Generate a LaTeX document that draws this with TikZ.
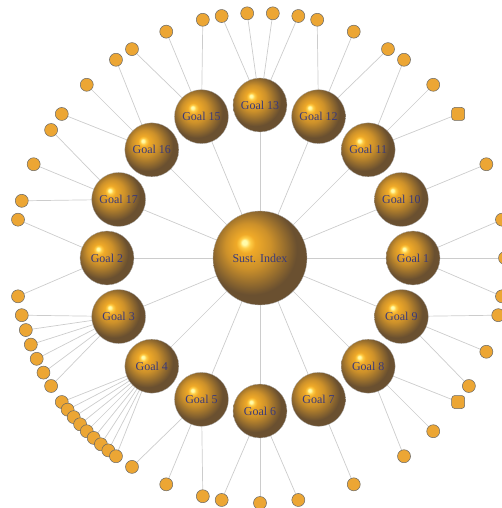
\documentclass[tikz,border=0pt]{standalone}
\usepackage{fontspec}
\setmainfont{Liberation Serif}
\usetikzlibrary{backgrounds}

\definecolor{goldhl}{RGB}{255,252,170}
\definecolor{goldgl}{RGB}{255,205,70}
\definecolor{goldlt}{RGB}{240,170,40}
\definecolor{goldmd}{RGB}{205,145,42}
\definecolor{golddk}{RGB}{106,80,48}
\definecolor{leafor}{RGB}{236,166,52}
\definecolor{labelbl}{RGB}{58,58,122}

\pgfdeclareradialshading{goldball}{\pgfpoint{-8.5bp}{8.5bp}}{%
  color(0bp)=(goldhl); color(1.2bp)=(goldhl); color(2.8bp)=(goldgl);
  color(5bp)=(goldlt); color(12bp)=(goldmd); color(24bp)=(golddk);
  color(50bp)=(golddk)}

\begin{document}
\begin{tikzpicture}[x=1pt, y=1pt,
  hub/.style={circle, shade, shading=goldball, draw=gray!60, line width=0.3pt, minimum size=94pt, inner sep=0pt, text=labelbl, font=\fontsize{12}{14}\selectfont},
  goal/.style={hub, minimum size=54pt},
  leaf/.style={fill=leafor, draw=black!60, line width=0.5pt, minimum size=13pt, inner sep=0pt, rounded corners=3pt},
  link/.style={draw=gray!40, line width=0.7pt}
]
  \useasboundingbox (-260,-250) rectangle (242,258);

  \node[hub]  (index) at (0,0)        {Sust. Index};
  \node[goal] (g1)    at (0:153)      {Goal 1};
  \node[goal] (g9)    at (-22.5:153)  {Goal 9};
  \node[goal] (g8)    at (-45:153)    {Goal 8};
  \node[goal] (g7)    at (-67.5:153)  {Goal 7};
  \node[goal] (g6)    at (-90:153)    {Goal 6};
  \node[goal] (g5)    at (-112.5:153) {Goal 5};
  \node[goal] (g4)    at (-135:153)   {Goal 4};
  \node[goal] (g3)    at (-157.5:153) {Goal 3};
  \node[goal] (g2)    at (180:153)    {Goal 2};
  \node[goal] (g17)   at (157.5:153)  {Goal 17};
  \node[goal] (g16)   at (135:153)    {Goal 16};
  \node[goal] (g15)   at (112.5:153)  {Goal 15};
  \node[goal] (g13)   at (90:153)     {Goal 13};
  \node[goal] (g12)   at (67.5:153)   {Goal 12};
  \node[goal] (g11)   at (45:153)     {Goal 11};
  \node[goal] (g10)   at (22.5:153)   {Goal 10};

  \begin{pgfonlayer}{background}
    \foreach \n in {1,...,13,15,16,17}
      \draw[link] (index) -- (g\n);
  \end{pgfonlayer}

  % indicators round each goal
  \foreach \g/\a/\sh [count=\i] in {
      g1/9/circle, g1/0/circle, g1/-9/circle,
      g9/-13.5/circle, g9/-22.5/circle, g9/-31.5/circle,
      g8/-36/rectangle, g8/-45/circle, g8/-54/circle,
      g7/-67.5/circle,
      g6/-81/circle, g6/-90/circle, g6/-99/circle,
      g5/-103.5/circle, g5/-112.5/circle, g5/-121.5/circle,
      g4/-144/circle, g4/-141.75/circle, g4/-139.5/circle, g4/-137.25/circle, g4/-135/circle,
      g4/-132.75/circle, g4/-130.5/circle, g4/-128.25/circle, g4/-126/circle,
      g3/-148.5/circle, g3/-152.1/circle, g3/-155.7/circle, g3/-159.3/circle, g3/-162.9/circle, g3/-166.5/circle,
      g2/189/circle, g2/171/circle,
      g17/166.5/circle, g17/157.5/circle, g17/148.5/circle,
      g16/144/circle, g16/135/circle, g16/126/circle,
      g15/121.5/circle, g15/112.5/circle, g15/103.5/circle,
      g13/99/circle, g13/93/circle, g13/87/circle, g13/81/circle,
      g12/76.5/circle, g12/67.5/circle, g12/58.5/circle,
      g11/54/circle, g11/45/circle, g11/36/rectangle,
      g10/22.5/circle} {
    \node[leaf, shape=\sh] (d\i) at (\a:245) {};
    \begin{pgfonlayer}{background}
      \draw[link] (\g) -- (d\i);
    \end{pgfonlayer}
  }
\end{tikzpicture}
\end{document}
